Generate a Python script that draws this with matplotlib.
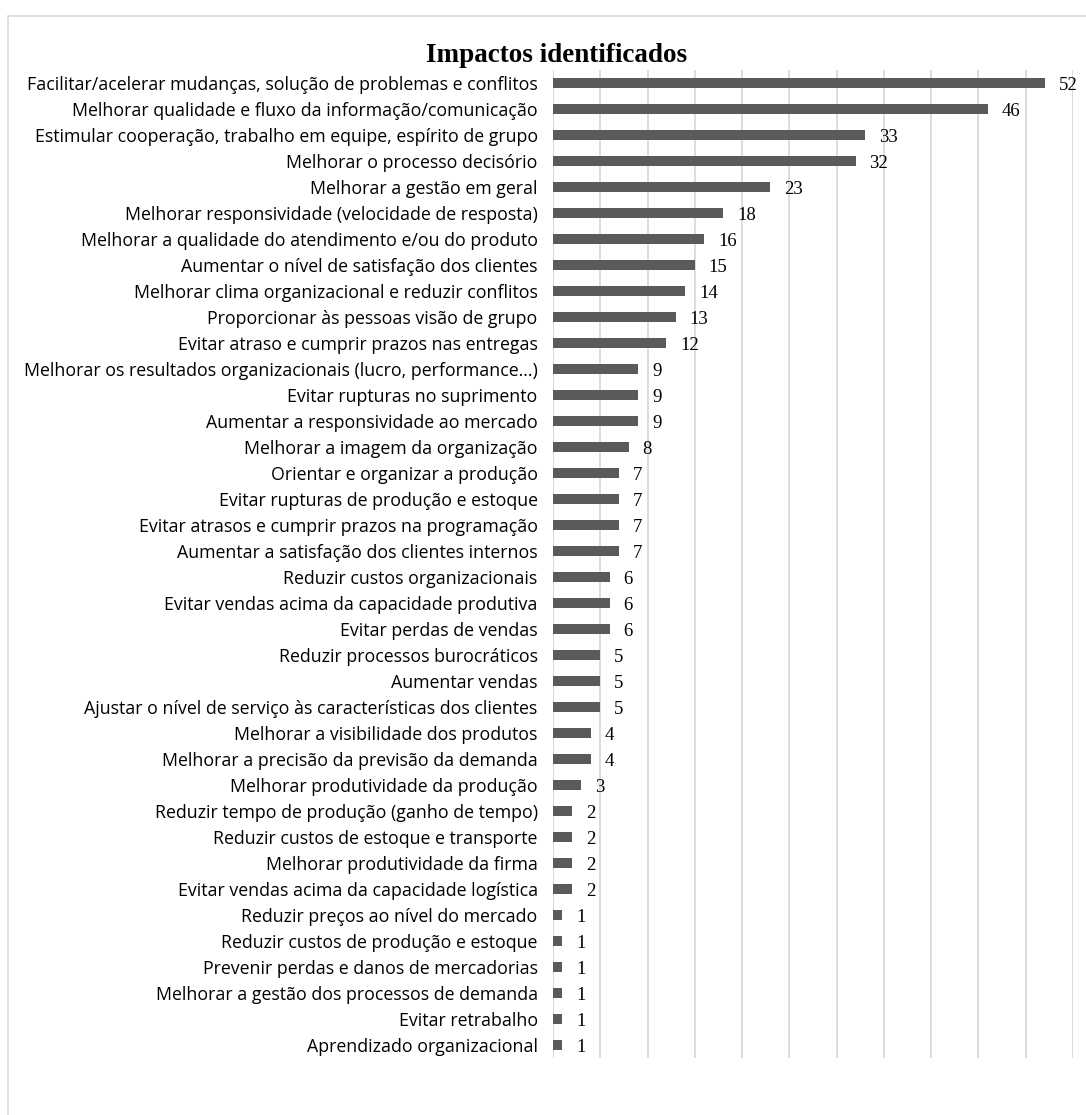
import matplotlib
matplotlib.use('Agg')
import matplotlib.pyplot as plt
from matplotlib.patches import Rectangle

labels = [
    'Facilitar/acelerar mudanças, solução de problemas e conflitos',
    'Melhorar qualidade e fluxo da informação/comunicação',
    'Estimular cooperação, trabalho em equipe, espírito de grupo',
    'Melhorar o processo decisório',
    'Melhorar a gestão em geral',
    'Melhorar responsividade (velocidade de resposta)',
    'Melhorar a qualidade do atendimento e/ou do produto',
    'Aumentar o nível de satisfação dos clientes',
    'Melhorar clima organizacional e reduzir conflitos',
    'Proporcionar às pessoas visão de grupo',
    'Evitar atraso e cumprir prazos nas entregas',
    'Melhorar os resultados organizacionais (lucro, performance...)',
    'Evitar rupturas no suprimento',
    'Aumentar a responsividade ao mercado',
    'Melhorar a imagem da organização',
    'Orientar e organizar a produção',
    'Evitar rupturas de produção e estoque',
    'Evitar atrasos e cumprir prazos na programação',
    'Aumentar a satisfação dos clientes internos',
    'Reduzir custos organizacionais',
    'Evitar vendas acima da capacidade produtiva',
    'Evitar perdas de vendas',
    'Reduzir processos burocráticos',
    'Aumentar vendas',
    'Ajustar o nível de serviço às características dos clientes',
    'Melhorar a visibilidade dos produtos',
    'Melhorar a precisão da previsão da demanda',
    'Melhorar produtividade da produção',
    'Reduzir tempo de produção (ganho de tempo)',
    'Reduzir custos de estoque e transporte',
    'Melhorar produtividade da firma',
    'Evitar vendas acima da capacidade logística',
    'Reduzir preços ao nível do mercado',
    'Reduzir custos de produção e estoque',
    'Prevenir perdas e danos de mercadorias',
    'Melhorar a gestão dos processos de demanda',
    'Evitar retrabalho',
    'Aprendizado organizacional',
]
values = [52, 46, 33, 32, 23, 18, 16, 15, 14, 13, 12, 9, 9, 9, 8, 7, 7, 7, 7,
          6, 6, 6, 5, 5, 5, 4, 4, 3, 2, 2, 2, 2, 1, 1, 1, 1, 1, 1]

label_font = ['Open Sans', 'DejaVu Sans']
serif_font = ['Liberation Serif', 'DejaVu Serif']

fig = plt.figure(figsize=(10.86, 11.15), dpi=100)

# chart frame
fig.patches.append(Rectangle((8 / 1086, -0.01), 1.02, 1 - 16 / 1115 + 0.01,
                             transform=fig.transFigure, fill=False,
                             edgecolor='#d9d9d9', linewidth=1.2))

ax = fig.add_axes([553 / 1086, 1 - 1058 / 1115, 520 / 1086, 988 / 1115])
y = list(range(len(values)))
ax.barh(y, values, height=0.36, color='#5a5a5a', zorder=3)
ax.set_ylim(len(values) - 0.5, -0.5)
ax.set_xlim(0, 55)
ax.set_xticks(range(0, 56, 5))
ax.set_xticklabels([])
ax.tick_params(length=0)
ax.grid(axis='x', color='#d9d9d9', linewidth=1.3, zorder=0)
for s in ax.spines.values():
    s.set_visible(False)
ax.axvline(0, color='#d9d9d9', linewidth=1.3, zorder=1)

ax.set_yticks(y)
ax.set_yticklabels(labels, family=label_font, fontsize=12.75)
ax.tick_params(axis='y', pad=11)

for yi, v in zip(y, values):
    ax.annotate(str(v), (v, yi), xytext=(10, -2), textcoords='offset points',
                va='center', ha='left', family=serif_font, fontsize=13.5)

fig.text(557 / 1086, 1 - 56 / 1115, 'Impactos identificados', ha='center',
         va='center', family=serif_font, fontsize=19.5, fontweight='bold')

fig.savefig('out.png', dpi=100)
